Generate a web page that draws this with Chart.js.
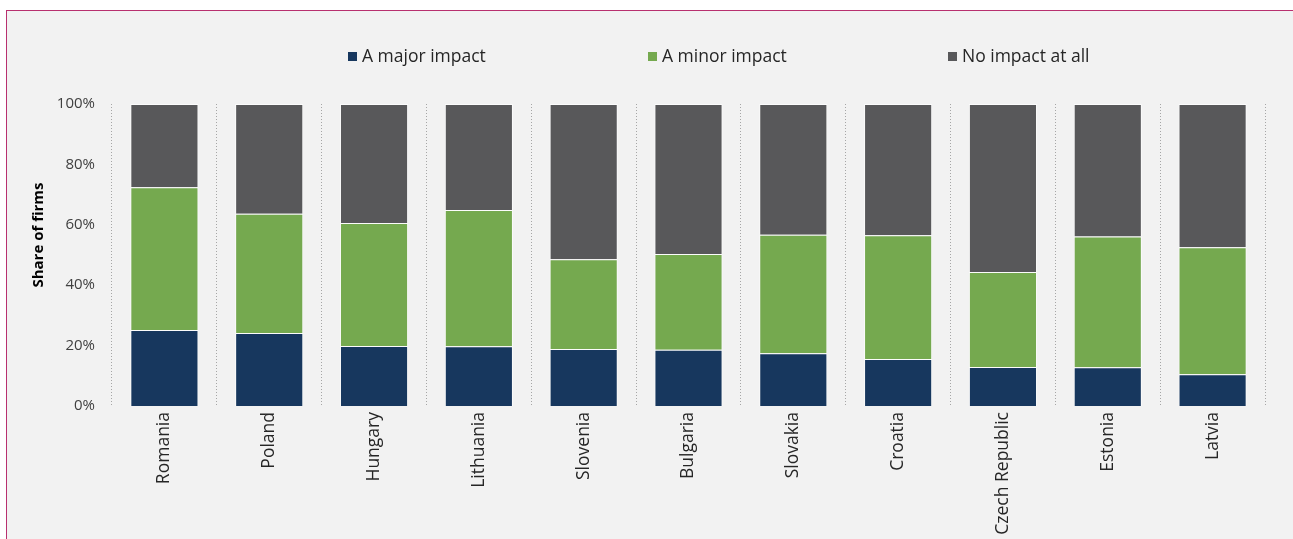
<!DOCTYPE html>
<html>
<head>
<meta charset="utf-8">
<script src="https://cdn.jsdelivr.net/npm/chart.js@4"></script>
<style>
  html, body { margin: 0; padding: 0; background: #ffffff; overflow: hidden; }
  #frame {
    position: absolute; left: 6px; top: 10px; width: 1300px; height: 540px;
    border-left: 1.5px solid #b8306f; border-top: 1.5px solid #b8306f;
    background: #f2f2f2;
  }
  #wrap { position: absolute; left: 0; top: 0; width: 1293px; height: 539px; }
</style>
</head>
<body>
<div id="frame"></div>
<div id="wrap"><canvas id="impact-chart"></canvas></div>
<script>
// 국가 (x축)
const countries = ['Romania', 'Poland', 'Hungary', 'Lithuania', 'Slovenia', 'Bulgaria',
  'Slovakia', 'Croatia', 'Czech Republic', 'Estonia', 'Latvia'];

// 시리즈 값 (%)
const majorImpact = [25.2, 24.2, 19.9, 19.8, 18.9, 18.6, 17.5, 15.6, 12.9, 12.8, 10.5];
const minorImpact = [47.2, 39.5, 40.7, 45.1, 29.7, 31.7, 39.2, 40.9, 31.5, 43.3, 42.1];
const noImpact = [27.6, 36.3, 39.4, 35.1, 51.4, 49.7, 43.3, 43.5, 55.6, 43.9, 47.4];

const seriesNames = ['A major impact', 'A minor impact', 'No impact at all'];
const yTickValues = [0, 20, 40, 60, 80, 100];
const yAxisTitle = 'Share of firms';

const FONT = '"Open Sans", "Noto Sans", sans-serif';

function renderImpactChart() {
    const ctx = document.getElementById('impact-chart').getContext('2d');

    window.impactChart = new Chart(ctx, {
        type: 'bar',
        data: {
            labels: countries,
            datasets: [
                { label: seriesNames[0], data: majorImpact, backgroundColor: '#17375e' },
                { label: seriesNames[1], data: minorImpact, backgroundColor: '#75a94f' },
                { label: seriesNames[2], data: noImpact, backgroundColor: '#58585a' },
            ].map(ds => Object.assign(ds, {
                borderColor: 'rgba(255,255,255,0.75)',
                borderWidth: 1,
                categoryPercentage: 1,
                barPercentage: 0.65,
            })),
        },
        options: {
            responsive: true,
            maintainAspectRatio: false,
            animation: false,
            layout: {
                padding: { top: 104, right: 28, bottom: 0, left: 0 },
            },
            plugins: {
                legend: { display: false }, // 범례는 아래 플러그인에서 직접 그림
                tooltip: { enabled: false },
            },
            scales: {
                x: {
                    stacked: true,
                    offset: true,
                    grid: {
                        offset: true,
                        drawTicks: false,
                        color: '#a6a6a6',
                        lineWidth: 1,
                    },
                    border: { display: false, dash: [1, 2] },
                    ticks: {
                        color: '#262626',
                        font: { family: FONT, size: 17.5 },
                        autoSkip: false,
                        maxRotation: 90,
                        minRotation: 90,
                        padding: 6,
                    },
                    afterFit: scale => { scale.height = 133; },
                },
                y: {
                    stacked: true,
                    min: 0,
                    max: 100,
                    afterBuildTicks: scale => {
                        scale.ticks = yTickValues.map(v => ({ value: v }));
                    },
                    grid: { display: false, drawTicks: false },
                    border: { display: false },
                    ticks: {
                        color: '#404040',
                        font: { family: FONT, size: 15 },
                        padding: 17,
                        callback: v => v + '%',
                    },
                    afterFit: scale => { scale.width = 112; },
                },
            },
        },
        plugins: [
            {
                id: 'legendAndTitle',
                afterDraw: function (chart) {
                    const c = chart.ctx;
                    c.save();
                    // 범례
                    c.font = '17.5px ' + FONT;
                    c.textBaseline = 'middle';
                    c.textAlign = 'left';
                    const legendX = [348, 648, 948];
                    chart.data.datasets.forEach((ds, i) => {
                        c.fillStyle = ds.backgroundColor;
                        c.fillRect(legendX[i], 52, 9, 9);
                        c.fillStyle = '#262626';
                        c.fillText(ds.label, legendX[i] + 14, 57);
                    });
                    // y축 제목
                    c.translate(39, 235);
                    c.rotate(-Math.PI / 2);
                    c.font = 'bold 15px ' + FONT;
                    c.fillStyle = '#000000';
                    c.textAlign = 'center';
                    c.fillText(yAxisTitle, 0, 0);
                    c.restore();
                }
            }
        ],
    });
}

document.addEventListener('DOMContentLoaded', renderImpactChart);
</script>
</body>
</html>
